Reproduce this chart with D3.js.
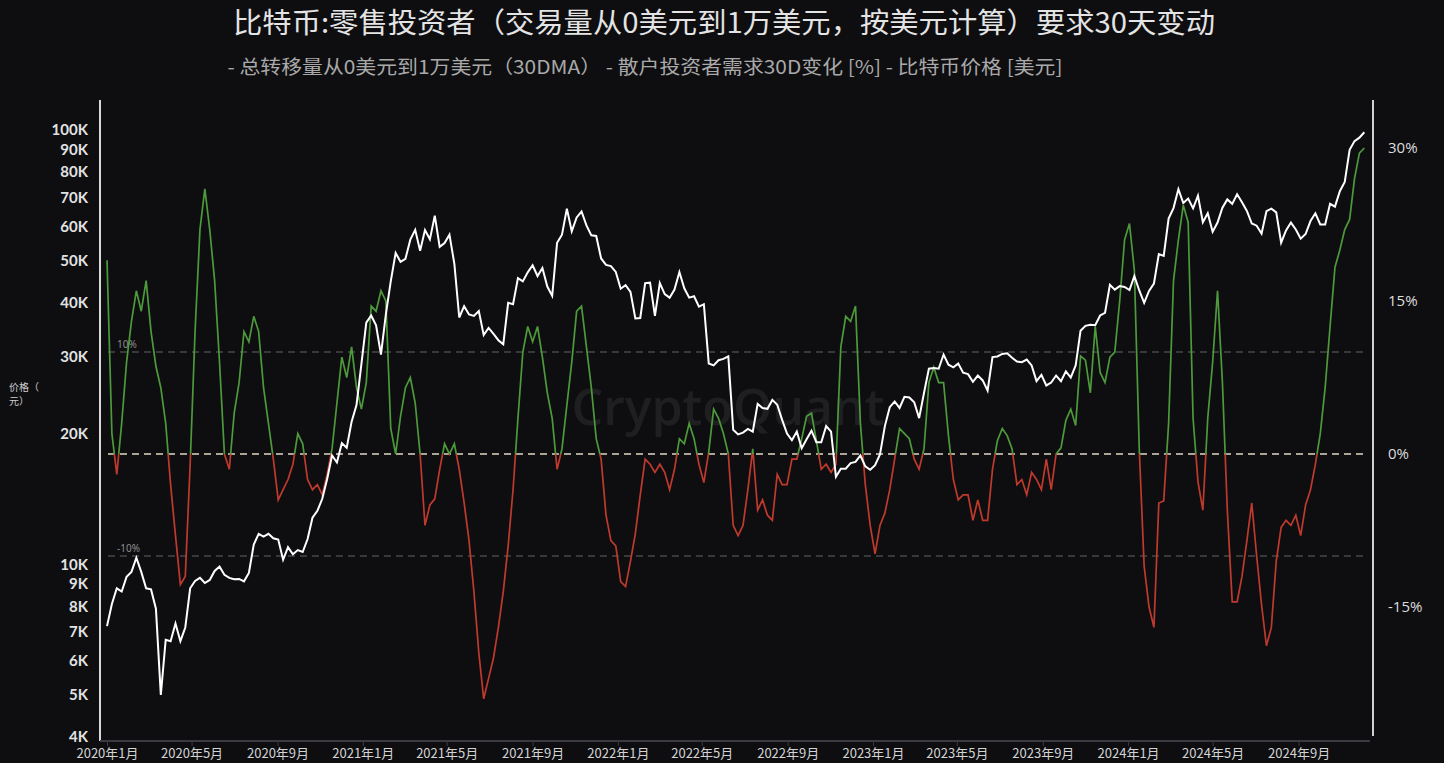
<!DOCTYPE html>
<html><head><meta charset="utf-8">
<script src="https://cdn.jsdelivr.net/npm/d3@7"></script>
<style>
html,body{margin:0;padding:0;background:#0e0e11;overflow:hidden}
svg{display:block}
</style></head><body>
<svg id="c" width="1444" height="763"></svg>
<script>
// ---------- DATA ----------
const titleText = "比特币:零售投资者（交易量从0美元到1万美元，按美元计算）要求30天变动";
const legendText = "- 总转移量从0美元到1万美元（30DMA） - 散户投资者需求30D变化 [%] - 比特币价格 [美元]";
const yAxisLabel = ["价格（", "元）"];
const watermark = "CryptoQuant";

// weekly observations starting 2020-01-01
const seriesStart = "2020-01-01";
const stepDays = 7;

// Retail investor demand 30D change [%]
const demand = [
 19, 2, -2, 3, 9, 13, 16, 14, 17, 12, 8.6, 6.5, 3, -3, -8, -12.8, -12, -1, 12, 22, 26, 22, 17, 9, 0, -1.5, 4, 7, 12, 11, 13.5, 12, 6.5, 3, -0.5, -4.5, -3.5, -2.5, -1, 2, 1, -2.5, -3.5,
 -3, -4, -2, 0.5, 5, 9.5, 7.5, 10.5, 6.5, 4.4, 7, 14.5, 14, 16, 15, 2.5, 0, 3.7, 6.5, 7.5, 5, 0, -7, -5, -4.4, -1.5, 1, 0, 1, -1.5, -4.8, -8.5, -13.5, -19.5, -24, -22, -20, -17, -13.5, -9, -3.5, 3.5, 10,
 12.5, 11, 12.5, 9.5, 6, 3.5, -1.5, 0.5, 4.8, 9, 14, 14.5, 10.5, 6.5, 1.5, -0.5, -6, -8.5, -9, -12.5, -13, -10.5, -7.8, -4, -0.5, -1, -1.8, -1, -1.8, -3.5, -1.5, 1.5, 1, 3, 1.5, -1, -2.8, 0.2, 4.4, 3.5, 2, 0, -7,
 -8, -7, -3.5, 0.5, -5.5, -4.5, -6, -6.5, -2, -3, -3, -0.5, -0.5, 1.5, 3.7, 4, 1.3, -1.5, -1, -1.8, -1, 10.5, 13.5, 13, 14.5, 3, -3, -7, -9.8, -7, -5.8, -3.5, -0.5, 2.5, 2, 1.5, -0.5, -1.5, 0.5, 7, 8.5, 7, 7,
 1.8, -2.5, -4.5, -4, -4, -6.5, -4.5, -6.5, -6.5, -1.5, 1.3, 2.5, 1.8, 0.5, -3, -2.5, -4, -1.8, -2.5, -3.5, -0.5, -3.5, 0, 0.6, 3.3, 4.4, 2.8, 9.6, 9.2, 6, 12.5, 8, 7, 9.5, 10, 15, 21, 22.6, 18, 0.5, -11, -15, -17,
 -4.8, -4.6, 3, 17, 21, 24.4, 22.7, 3.5, -2.7, -5.5, 3.5, 9, 16, 7, -5.5, -14.5, -14.5, -12, -8.5, -4.8, -10, -14.8, -18.8, -17, -10.5, -7.2, -6.5, -7, -6, -8, -5, -3.5, -1, 2, 6.5, 12.5, 18.3, 20, 22, 23, 27, 29.5, 30
];

// Bitcoin price [USD]
const price = [
 7200, 8100, 8800, 8650, 9350, 9600, 10350, 9600, 8800, 8750, 7900, 5000, 6700, 6650, 7300, 6650, 7150, 8800, 9150, 9300, 9050, 9200, 9650, 9880, 9450, 9300, 9230, 9250, 9130, 9550, 11100, 11750, 11580, 11750, 11470, 11400, 10240, 10950, 10540, 10780, 10670, 11430, 12800, 13270, 14150, 15700, 17800, 17150, 19000, 18550, 21300, 23250, 28900,
 36000, 37400, 35500, 30400, 37600, 44800, 52100, 49700, 50500, 55900, 58900, 52700, 58800, 56000, 63500, 53800, 54900, 57400, 49200, 37000, 39300, 37600, 37300, 38300, 33700, 35000, 33900, 32800, 32100, 40000, 39700, 45600, 44800, 47000, 48800, 46100, 48100, 43600, 41500, 55000, 57400, 65900, 58400, 62900, 64900, 60300, 57200, 57000, 50600, 48900, 48600, 47100,
 43100, 43900, 42400, 36800, 36900, 44400, 44500, 37300, 44400, 41900, 41100, 42900, 47100, 43200, 41100, 41400, 39200, 39700, 29000, 28700, 29500, 29700, 30100, 20400, 19900, 20100, 20500, 20200, 23400, 22900, 22800, 23900, 23300, 21500, 20000, 19300, 20200, 18500, 19400, 20300, 19100, 19100, 20800, 20200, 15900, 16600, 16600, 17100, 17200, 17800, 16800, 16500,
 16900, 17900, 20800, 23000, 23700, 22900, 24300, 24200, 23600, 21700, 24800, 28200, 28300, 28200, 30400, 28800, 28400, 29000, 27600, 27400, 26300, 27200, 26500, 25100, 30000, 30100, 30500, 30600, 29900, 29300, 29200, 29600, 28700, 26400, 27300, 25800, 26200, 27200, 26400, 27800, 26900, 28700, 34500, 35400, 35600, 35500, 37400, 37900, 44000, 42900, 43700, 43500,
 42800, 46100, 42700, 40000, 42600, 44300, 51800, 51300, 62500, 66100, 73100, 67900, 69500, 66000, 70600, 61300, 64300, 58300, 61200, 66200, 69200, 67600, 71100, 68200, 65100, 60900, 60200, 57700, 65000, 65900, 64600, 55000, 58700, 61200, 59000, 56200, 57600, 61700, 64300, 60600, 60600, 67600, 66600, 72300, 75900, 90000, 94300, 96000, 98800
];

const priceTicks = [4000, 5000, 6000, 7000, 8000, 9000, 10000, 20000, 30000, 40000, 50000, 60000, 70000, 80000, 90000, 100000];
const pctTicks = [-15, 0, 15, 30];
const refLines = [10, 0, -10];
const xTickDates = ["2020-01-01","2020-05-01","2020-09-01","2021-01-01","2021-05-01","2021-09-01","2022-01-01","2022-05-01","2022-09-01","2023-01-01","2023-05-01","2023-09-01","2024-01-01","2024-05-01","2024-09-01"];

// ---------- CHART ----------
const svg = d3.select("#c");
const W = 1444, H = 763;
svg.append("rect").attr("width", W).attr("height", H).attr("fill", "#0e0e11");

const parse = d3.timeParse("%Y-%m-%d");
const t0 = parse(seriesStart);
const dates = demand.map((_, i) => d3.timeDay.offset(t0, i * stepDays));

const x = d3.scaleTime().domain([parse("2020-01-01"), parse("2024-12-05")]).range([107, 1365]);
const yP = d3.scaleLog().domain([4000, 100000]).range([737, 130]);
const yD = d3.scaleLinear().domain([-15, 30]).range([607, 148]);

// titles
svg.append("text").attr("x", 724).attr("y", 33).attr("text-anchor", "middle")
  .attr("font-family", "'Noto Sans CJK SC','Noto Sans',sans-serif").attr("font-size", 28)
  .attr("fill", "#e4e4e4").attr("textLength", 982).attr("lengthAdjust", "spacingAndGlyphs").text(titleText);
svg.append("text").attr("x", 645).attr("y", 74).attr("text-anchor", "middle")
  .attr("font-family", "'Noto Sans CJK SC','Noto Sans',sans-serif").attr("font-size", 19)
  .attr("fill", "#a9a9a9").attr("textLength", 835).attr("lengthAdjust", "spacingAndGlyphs").text(legendText);

// watermark
svg.append("text").attr("x", 728).attr("y", 425).attr("text-anchor", "middle")
  .attr("font-family", "'Open Sans','Noto Sans',sans-serif").attr("font-size", 50).attr("font-weight", 600)
  .attr("fill", "#ffffff").attr("fill-opacity", 0.07).text(watermark);

// reference dashed lines
refLines.forEach(v => {
  svg.append("line").attr("x1", 108).attr("x2", 1368).attr("y1", yD(v)).attr("y2", yD(v))
    .attr("stroke", v === 0 ? "#e9e1cc" : "#8a8a8a").attr("stroke-width", v === 0 ? 1.6 : 1.2)
    .attr("stroke-dasharray", "7,5").attr("stroke-opacity", v === 0 ? 0.95 : 0.7);
  if (v !== 0) {
    svg.append("text").attr("x", 117).attr("y", yD(v) - 4).attr("font-size", 10)
      .attr("font-family", "'Noto Sans',sans-serif").attr("fill", "#8f8f8f").text(v + "%");
  }
});

// clip paths for demand colouring
const defs = svg.append("defs");
defs.append("clipPath").attr("id", "above").append("rect")
  .attr("x", 0).attr("y", 0).attr("width", W).attr("height", yD(0));
defs.append("clipPath").attr("id", "below").append("rect")
  .attr("x", 0).attr("y", yD(0)).attr("width", W).attr("height", H - yD(0));

const dLine = d3.line().x((d, i) => x(dates[i])).y(d => yD(d));
svg.append("path").datum(demand).attr("d", dLine).attr("fill", "none")
  .attr("stroke", "#4d9a3b").attr("stroke-width", 1.7).attr("clip-path", "url(#above)");
svg.append("path").datum(demand).attr("d", dLine).attr("fill", "none")
  .attr("stroke", "#bf3a2d").attr("stroke-width", 1.7).attr("clip-path", "url(#below)");

const pLine = d3.line().x((d, i) => x(dates[i])).y(d => yP(d));
svg.append("path").datum(price).attr("d", pLine).attr("fill", "none")
  .attr("stroke", "#ffffff").attr("stroke-width", 2);

// left axis
const fmtK = d => (d / 1000) + "K";
const gL = svg.append("g").attr("transform", "translate(100,0)")
  .call(d3.axisLeft(yP).tickValues(priceTicks).tickFormat(fmtK).tickSize(0).tickPadding(12));
gL.select(".domain").remove();
gL.selectAll("text").attr("fill", "#e2e2e2").attr("font-size", 15).attr("font-weight", 700)
  .attr("font-family", "Lato,'Open Sans',sans-serif");
svg.append("line").attr("x1", 100).attr("x2", 100).attr("y1", 100).attr("y2", 741)
  .attr("stroke", "#d8d8d8").attr("stroke-width", 2);

// right axis
const gR = svg.append("g").attr("transform", "translate(1373,0)")
  .call(d3.axisRight(yD).tickValues(pctTicks).tickFormat(d => d + "%").tickSize(0).tickPadding(15));
gR.select(".domain").remove();
gR.selectAll("text").attr("fill", "#dcdcdc").attr("font-size", 15)
  .attr("font-family", "'Open Sans','Noto Sans',sans-serif");
svg.append("line").attr("x1", 1373).attr("x2", 1373).attr("y1", 100).attr("y2", 736)
  .attr("stroke", "#d0d0d0").attr("stroke-width", 2);

// y label
yAxisLabel.forEach((t, i) => {
  svg.append("text").attr("x", 9).attr("y", 391 + i * 14).attr("font-size", 10)
    .attr("font-family", "'Noto Sans CJK SC',sans-serif").attr("fill", "#cfcfcf").text(t);
});

// x axis
const gX = svg.append("g").attr("transform", "translate(0,741)")
  .call(d3.axisBottom(x).tickValues(xTickDates.map(parse))
    .tickFormat(d => d.getFullYear() + "年" + (d.getMonth() + 1) + "月").tickSize(5).tickPadding(3));
gX.select(".domain").attr("stroke", "#3a3a40").attr("stroke-width", 2).attr("d", "M100,0H1370");
gX.selectAll(".tick line").attr("stroke", "#3a3a40");
gX.selectAll("text").attr("fill", "#d4d4d4").attr("font-size", 13)
  .attr("font-family", "'Noto Sans CJK SC',sans-serif");
</script>
</body></html>
